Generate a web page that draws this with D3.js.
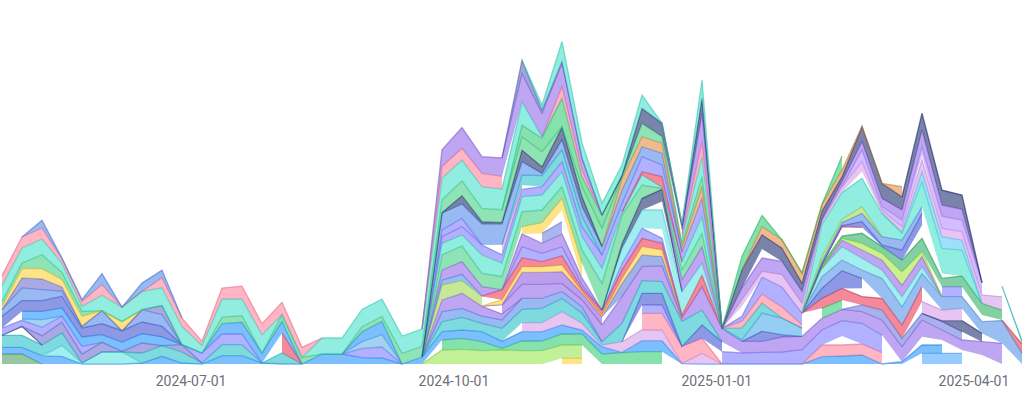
<!DOCTYPE html>
<html><head><meta charset="utf-8">
<style>html,body{margin:0;padding:0;background:#fff}svg{display:block}</style>
<script src="https://cdnjs.cloudflare.com/ajax/libs/d3/7.8.5/d3.min.js"></script>
</head><body><svg id="c" width="1028" height="393"></svg>
<script>
// span(start,[values],start2,[values],...) : weekly values, null elsewhere
const WEEKS = 52;
function span(){const a=new Array(WEEKS).fill(null);for(let k=0;k<arguments.length;k+=2){arguments[k+1].forEach((v,i)=>a[arguments[k]+i]=v);}return a;}
const tickLabels=["2024-07-01","2024-10-01","2025-01-01","2025-04-01"];

const sage=span(0,[10,10,0]);
const yelB=span(28,[5.7,5.7]);
const ltg=span(21,[0,14,14.7,13.3,14,13.3,13.3,13.3,13.3]);
const grn3=span(22,[10,11,9,1.7,9.7,9.7,11,11,10,11.3,12.3,12.3]);
const blue=span(0,[6.7,6.7,8.3,7.7,0,0,0,1,7.7,1,0,8.3,8.3,1,0,0,10,10,6.3,6,0,7,8.3,8.3,10,7,9.3,9.3,9,4,7.3,.3,11,11,.3]);
const ltb=span(46,[10.7,10.7,10.7]);
const bluC=span(34,[0,0,0,0,0,0,0,7.3,8,9,0,2.3,8.3,8.3]);
const pinkC=span(40,[0,11.7,11,11,11.3]);
const gapC=span(42,[9],46,[8.3,5,3.3,9]);
const aqua=span(2,[0,10.7,1,12,12,0]);
const ta=span(0,[12,12,10.7,12.7,0,0,0,10,10.7,11,1,11,11,0,11,0]);
const crim=span(14,[20,0]);
const gapA=span(1,[8.3]);
const navA=span(0,[0,.7,0]);
const slateA=span(1,[0,9.3,10.7,9,9.7,.7,10,0,7.3,0]);
const lav=span(0,[7.3,6,8.3,6,7.7,0],9,[0,10,10.7,10.7,0],17,[0,9.3,11,0]);
const ltA=span(1,[1.3,7.7,0],17,[0,6.7,12.3,0]);
const blue2=span(1,[7.7,8.3,8.3,9.3,7.7,9.3,9.3,8.7,0,0,10.3,11.7,10,11.7,0],17,[0,10,13.3,0]);
const indA=span(0,[11.7,10.7,10.7,11.7,9,11,11.3,11.7,10.7,0]);
const cornA=span(0,[6.7,12.7,11,5,1.7,13,0,12.3,11.7,0]);
const slA=span(0,[0,10,10.7,4.3,0,0,0,0,9,0]);
const yelA=span(0,[3.3,9.3,10.3,7.3,10,0,9.3,0]);
const plum=span(26,[9,9,13.3,6.7,1.7,10.7,10.7,10.7,.3,10.7,0]);
const pk2=span(32,[16.7,16.7,17,15,0]);
const peri=span(32,[8.3,8.3,0],36,[12.3,11,11.7,12,14.3,15,15.3,20.7,17.7]);
const indB=span(31,[0,11.7,11.7,0,13.3,10]);
const tl=span(21,[0,10,12.7,8.3,13,13.3,14.3,13.3,10,3.3,18.3,12.7,11.7,25,15,0]);
const cf1=span(21,[0,10,9,7.3,8.3,11,10,6.7,6.7,0]);
const pu0=span(21,[0,11.7,15,9.7,6,0]);
const pu1=span(25,[9,14,14,8.3,6.7,16.7,26.7,14,15.7,3.3,23.3,13.3,11.7,11,15,13.3,11.7,11.3,11.7,15,15,16.7,10,10,13.3,20.7]);
const pu2=span(24,[.3,.3,12,12,11.7,6.7,8.3]);
const nv2=span(30,[0,13.3,11.7,9.3,0]);
const y1=span(24,[0,5,5.7,5.7,6.7,1.7,1.7,5,8.3,6.7,0]);
const lime=span(21,[0,15,12.7,9.5]);
const re=span(24,[.7,10,9,5,9.3,3.3,5,8.3,8.3,6.7,3.3,11.7,0]);
const id4=span(37,[0,10,2.3,0]);
const sk=span(36,[0,1.7,18.3,16.7,8.3]);
const t2=span(36,[0,11.7,10,0,0]);
const rr=span(36,[0,6.7,9,11,3.3]);
const pr2=span(36,[0,5,17,20,11.7]);
const gapF=span(37,[10]);
const peri2=span(42,[0,6.7,10,8.3,6.7,8.3,8.3]);
const sl2=span(46,[0,1,11,8.3]);
const pl3=span(46,[11.7,10.7,12.3]);
const g2=span(41,[10,9.3]);
const red=span(40,[0,10,11.7,8.3,11.7,13.3,15]);
const gap5=span(43,[8.3]);
const ind2=span(40,[0,10,17.7,10]);
const cfc=span(40,[0,11.7,10.7,8.3,20,18.3,13.3,13.3,11.7,11.7,22.7,10.7]);
const rd5=span(50,[.5,9.3]);
const aq3=span(40,[0,8.3,13.3,11.7,8.3,10,6.7,0]);
const pc=span(41,[0,6.7,8.3,10,11.7,10,0]);
const lm=span(41,[0,1.7,6.7,6.7,13.3,5,0]);
const pe=span(47,[10,10]);
const gapD=span(49,[6.7]);
const gc=span(40,[0,3.3,2.3,10,6.7,11.7,13.3,8.3,10.7,11.7,10]);
const gapE=span(42,[8.7,6],46,[13,5]);
const rd3=span(40,[0,.7,.7,0]);
const id3=span(40,[0,0,1,5.7,1.7,10,12]);
const cf=span(40,[0,3.3,3,8.3,8.3,10,6.7]);
const lime2=span(40,[0,5,3.3,6.7,0]);
const cf2=span(21,[0,5,6.3,0]);
const pu3=span(21,[0,10,12.7,9.3,0]);
const pv1=span(25,[0,11,8.3,9,3.3,0]);
const pv2=span(25,[0,12.7,10,12.7,6.7,0]);
const X3=span(27,[10,12.3]);
const gapY=span(28,[11.7]);
const y2=span(26,[7.3,10.7,11.7,15]);
const p2=span(30,[0,6.7,10,5,0]);
const gapP=span(33,[9.3]);
const aq=span(30,[0,15,18.3,19,23.3,11.7,0]);
const gapQ=span(33,[8.3]);
const nvB=span(30,[0,5,11.7,12.3,0]);
const pb=span(33,[0,11.7,16.7,0]);
const gn1=span(21,[0,15,15.7,13.3,13.3,15,12.7,11.7,13.3,26.7,28.3,13.3,1,10,13.3,0]);
const tl2=span(21,[0,11.7,11,18.3,13.3,15,15,15,13.3,15,2.3,10,1,8.3,16.7,0]);
const rd2=span(31,[1,3.3,10.7,0]);
const plum2=span(21,[0,6.7,8.3,10,8.3,7.3,8.3,10,10,13.3,8.3,15,11.7,10,18.3,0]);
const pb2=span(21,[0,6.7,8.3,0]);
const X2=span(25,[10,4.3]);
const tl3=span(25,[0,10,11,11.7,10,0]);
const cf3=span(21,[0,16.7,14.3,21,20.7,13.3,2.3,10,10,8.3,13.3,10,11.7,0]);
const org=span(30,[0,11.7,10,10,5,11.7,0]);
const nv=span(21,[0,.7,8.3,2.3,1.7,11.7,6.7,12.7,10,.7]);
const gA=span(0,[5,5.7,14,7.3,5,0,0,0,0,0,0,6.7,6.7,0,6.7,6.7,0,0,5,5,10.7,10.7,12.7,15,13.3,12.7,13.3,15,.7,10,17.7,1.7,13.3,6.7,3.3,10,0]);
const gB=span(25,[0,11.7,13.3,28.3,10,13.3,0]);
const main=span(0,[15.7,15,15.7,9.3,5,15.3,14.3,18.3,17.7,18.3,7.7,18,16.7,18.3,0,0,16,16,17.3,17.3,17.3,17.3,21.7,20.7,21.7,20.7,23.3,1.7,0],34,[5,20,0],40,[0,31.7,26.7,28.3,23.3,6.7,25,25,26,0]);
const pink=span(0,[10,11,11,4,5,10.7,0,0,10,8.3,4,11,12.7,11,12.3,10,0],21,[0,11.7,11.7,13.3,12.7],27,[0,11.7,6.7,0],34,[3.3,15,0]);
const topA=span(1,[0,7.7,1,1.7,11,0,8.3,7.7,0]);
const pu5=span(21,[0,16.7,20.7,16.7,18.3,28.3,23.3,23.3,11.7,0],34,[5,28.3,0]);
const sl=span(25,[0,13.3,3.3,1.7,.3,0]);
const nv3=span(30,[0,1.7,15,13.3,5,15,0]);
const tt=span(26,[0,5,20,15,11.7,10,13.3,0,1.7,18.3,0]);
const cyan=span(44,[0,1.7,10,11.7,10,0]);
const gapG=span(43,[6.7]);
const lpk=span(36,[0,6.7,5.7,12.3,10,3.3,6,10,3.3,5,11.7,8.3,8.3,8.3,13.3]);
const gapH=span(46,[5]);
const lt=span(42,[0,11.7,3.3,6.7,8.3,12.3,11.7,12.3]);
const pur=span(36,[0,11.7,13.3,13.3,11.7,1.7,5,8.3,8.3,10,16.7,11,10.7,0]);
const gapS=span(38,[9]);
const nc=span(36,[0,18.3,14.3,13.3,8.3,8.3,5,15,15,13.3,16.7,15,14.3,0]);
const orgC=span(37,[0,8.3,8.3,10,6.7,6.7,0,0,10]);
const grC=span(36,[0,13.3,11,0,0,0,14]);
const gapZ=span(50,[10]);
const tt2=span(50,[.7,3.3]);

const G='#2ecc71',BL='#1e90ff',PK='#ff7f9a',TL='#20c0c8',MA='#3fe0c8',PU='#9166e8',PE='#7878ff',CF='#4f86e8',IN='#3a4fd0',NV='#1a2a6c',PL='#d59be8',YE='#ffcf33',RD='#e8364f',AQ='#5fe0e0',LI='#a0d850',OR='#e08a3c',GM='#3ecf80';
const layers=[
 [sage,'#4a9e5c'],[yelB,YE],[ltg,'#96e650'],[grn3,G],[blue,BL],[ltb,'#4da6ff'],[bluC,BL],[pinkC,PK],[gapC,null],
 [aqua,AQ],[ta,TL],[crim,RD],[gapA,null],[navA,NV],[slateA,'#6a6ad0'],[lav,PE],[ltA,'#5fb0e8'],[blue2,BL],[indA,IN],[cornA,CF],[slA,'#6a6ad0'],[yelA,YE],
 [plum,PL],[pk2,PK],[peri,PE],[indB,IN],[tl,TL],[cf1,CF],[pu0,PU],[pu1,PU],[pu2,'#8a5ae0'],[nv2,'#5a78d8'],[y1,YE],[lime,LI],[re,RD],
 [id4,IN],[sk,'#4aa8e8'],[t2,TL],[rr,PK],[pr2,PE],[gapF,null],[peri2,'#6a78e0'],[sl2,NV],[pl3,PL],[g2,G],[red,RD],[gap5,null],[ind2,IN],[cfc,'#4f90e8'],[rd5,RD],[aq3,AQ],[pc,PU],[lm,'#a8e63c'],[pe,PE],[gapD,null],[gc,'#27ae60'],[gapE,null],[rd3,RD],[id3,IN],[cf,CF],[lime2,LI],
 [cf2,'#4f90e8'],[pu3,PU],[pv1,PE],[pv2,PU],[X3,'#6a80e0'],[gapY,null],[y2,YE],[p2,PE],[gapP,null],[aq,AQ],[gapQ,null],[nvB,NV],[pb,PU],[gn1,GM],[tl2,MA],[rd2,RD],[plum2,PE],[pb2,PE],[X2,PL],[tl3,TL],[cf3,CF],[org,OR],[nv,NV],[gA,GM],[gB,G],[main,MA],[pink,PK],[topA,CF],[pu5,PU],[sl,'#5a68c0'],[nv3,NV],[tt,MA],
 [cyan,'#5ac8fa'],[gapG,null],[lpk,PL],[gapH,null],[lt,'#b48cff'],[pur,PU],[gapS,null],[nc,NV],[orgC,OR],[grC,G],[gapZ,null],[tt2,TL]
];

const W=1028,H=393,BASE=364;
const parse=d3.utcParse("%Y-%m-%d");
const start=parse("2024-04-26");
const dates=d3.range(WEEKS).map(i=>d3.utcDay.offset(start,i*7));
const x=d3.scaleUtc().domain([dates[0],dates[WEEKS-1]]).range([2,1022]);
const y=d3.scaleLinear().domain([0,BASE]).range([BASE,0]);

const rows=dates.map((d,i)=>{const r={date:d};layers.forEach((l,k)=>r[k]=l[0][i]);return r;});
const stacked=d3.stack().keys(layers.map((_,k)=>k)).value((r,k)=>r[k]==null?0:r[k])(rows);

const svg=d3.select('#c');
const g=svg.append('g');
const area=d3.area().defined(p=>p.defined).x(p=>x(p.date)).y0(p=>y(p.y0)).y1(p=>y(p.y1));
const line=d3.line().defined(p=>p.defined).x(p=>x(p.date)).y(p=>y(p.y1));
stacked.forEach((s,k)=>{
  const col=layers[k][1];
  if(!col) return;
  const pts=s.map((v,i)=>({date:dates[i],y0:v[0],y1:v[1],defined:layers[k][0][i]!=null}));
  g.append('path').attr('d',area(pts)).attr('fill',col).attr('fill-opacity',.58).attr('stroke','none');
  g.append('path').attr('d',line(pts)).attr('fill','none').attr('stroke',d3.color(col).darker(.35)).attr('stroke-opacity',.6).attr('stroke-width',1.3);
});

const axis=d3.axisBottom(x).tickValues(tickLabels.map(parse)).tickFormat(d3.utcFormat("%Y-%m-%d")).tickSize(0).tickPadding(0);
const ax=svg.append('g').attr('transform','translate(0,376)').call(axis);
ax.select('.domain').remove();
ax.selectAll('text').attr('fill','#6e7079').attr('font-size',14).attr('font-family','Roboto,"Noto Sans",sans-serif').attr('dy','0.71em');
</script></body></html>
